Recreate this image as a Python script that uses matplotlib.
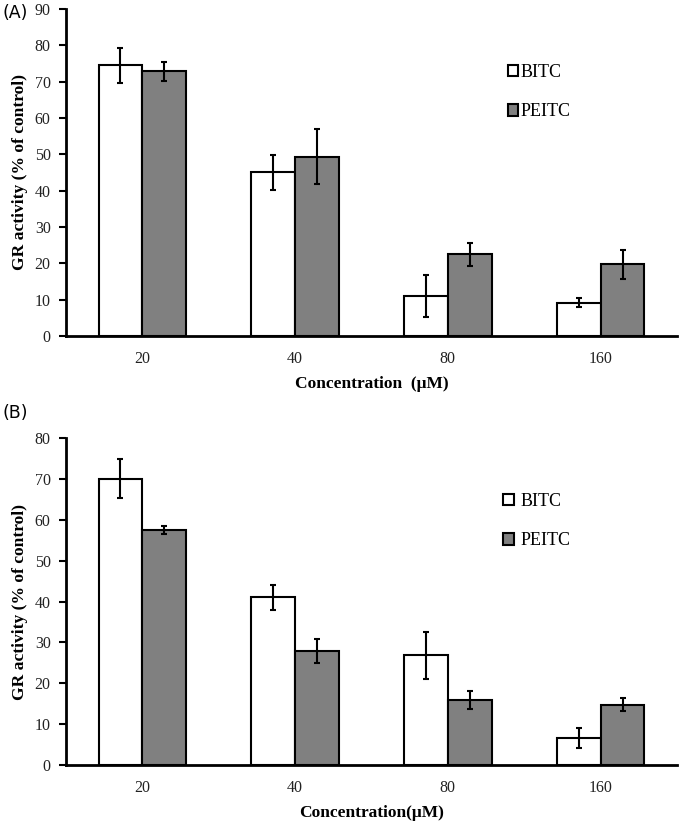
import matplotlib
matplotlib.use("Agg")
import matplotlib.pyplot as plt
import numpy as np
from matplotlib.patches import Patch

categories = ["20", "40", "80", "160"]
series_names = ["BITC", "PEITC"]

# Panel A
a_bitc = [74.5, 45.0, 11.0, 9.2]
a_bitc_err = [4.8, 4.7, 5.8, 1.2]
a_peitc = [72.8, 49.4, 22.5, 19.7]
a_peitc_err = [2.5, 7.7, 3.2, 4.0]

# Panel B
b_bitc = [70.0, 41.0, 26.8, 6.6]
b_bitc_err = [4.8, 3.0, 5.7, 2.5]
b_peitc = [57.5, 27.9, 15.8, 14.8]
b_peitc_err = [1.0, 3.0, 2.2, 1.7]

W, H = 683, 821
fig = plt.figure(figsize=(W/100, H/100), dpi=100)
serif = "Liberation Serif"

def panel(rect, bitc, berr, peitc, perr, ymax, xlabel, tag, tag_y, leg_x, leg_pad):
    ax = fig.add_axes(rect)
    x = np.arange(len(categories))
    w = 0.287
    ekw = dict(ecolor="black", elinewidth=1.5, capsize=2.2, capthick=1.5)
    ax.bar(x - w/2, bitc, w, color="white", edgecolor="black", linewidth=1.5,
           yerr=berr, error_kw=ekw)
    ax.bar(x + w/2, peitc, w, color="#808080", edgecolor="black", linewidth=1.5,
           yerr=perr, error_kw=ekw)
    ax.set_xlim(-0.5, 3.5)
    ax.set_ylim(0, ymax)
    ax.set_yticks(np.arange(0, ymax + 1, 10))
    ax.set_xticks(x)
    ax.set_xticklabels(categories)
    for s in ["top", "right"]:
        ax.spines[s].set_visible(False)
    ax.spines["left"].set_linewidth(2)
    ax.spines["bottom"].set_linewidth(2)
    ax.tick_params(axis="y", direction="out", length=5, width=1.5, labelsize=11.5, pad=6, colors="black")
    ax.tick_params(axis="x", length=0, labelsize=11.5, pad=11)
    for lab in ax.get_xticklabels() + ax.get_yticklabels():
        lab.set_fontfamily(serif)
        lab.set_color("#222222")
    ax.set_ylabel("GR activity (% of control)", fontfamily=serif, fontweight="bold", fontsize=12.6, labelpad=5)
    ax.set_xlabel(xlabel, fontfamily=serif, fontweight="bold", fontsize=12.5, labelpad=6)
    handles = [Patch(facecolor="white", edgecolor="black", linewidth=1.5, label=series_names[0]),
               Patch(facecolor="#808080", edgecolor="black", linewidth=1.5, label=series_names[1])]
    ax.legend(handles=handles, loc="upper left", bbox_to_anchor=(leg_x, 0.855), frameon=False,
              prop=dict(family=serif, size=13), handlelength=0.6, handleheight=0.6,
              handletextpad=leg_pad, labelspacing=1.25, borderaxespad=0)
    fig.text(2/W, 1 - tag_y/H, tag, fontsize=12.5, fontfamily="DejaVu Sans", va="center", ha="left")
    return ax

def rect(l, t, r, b):
    return [l/W, 1 - b/H, (r-l)/W, (b-t)/H]

panel(rect(66, 9, 677, 336), a_bitc, a_bitc_err, a_peitc, a_peitc_err, 90,
      "Concentration  (\u03bcM)", "(A)", 13, 0.711, 0.1)
panel(rect(66, 438, 677, 765), b_bitc, b_bitc_err, b_peitc, b_peitc_err, 80,
      "Concentration(\u03bcM)", "(B)", 413, 0.704, 0.35)

fig.savefig("out.png", dpi=100)
